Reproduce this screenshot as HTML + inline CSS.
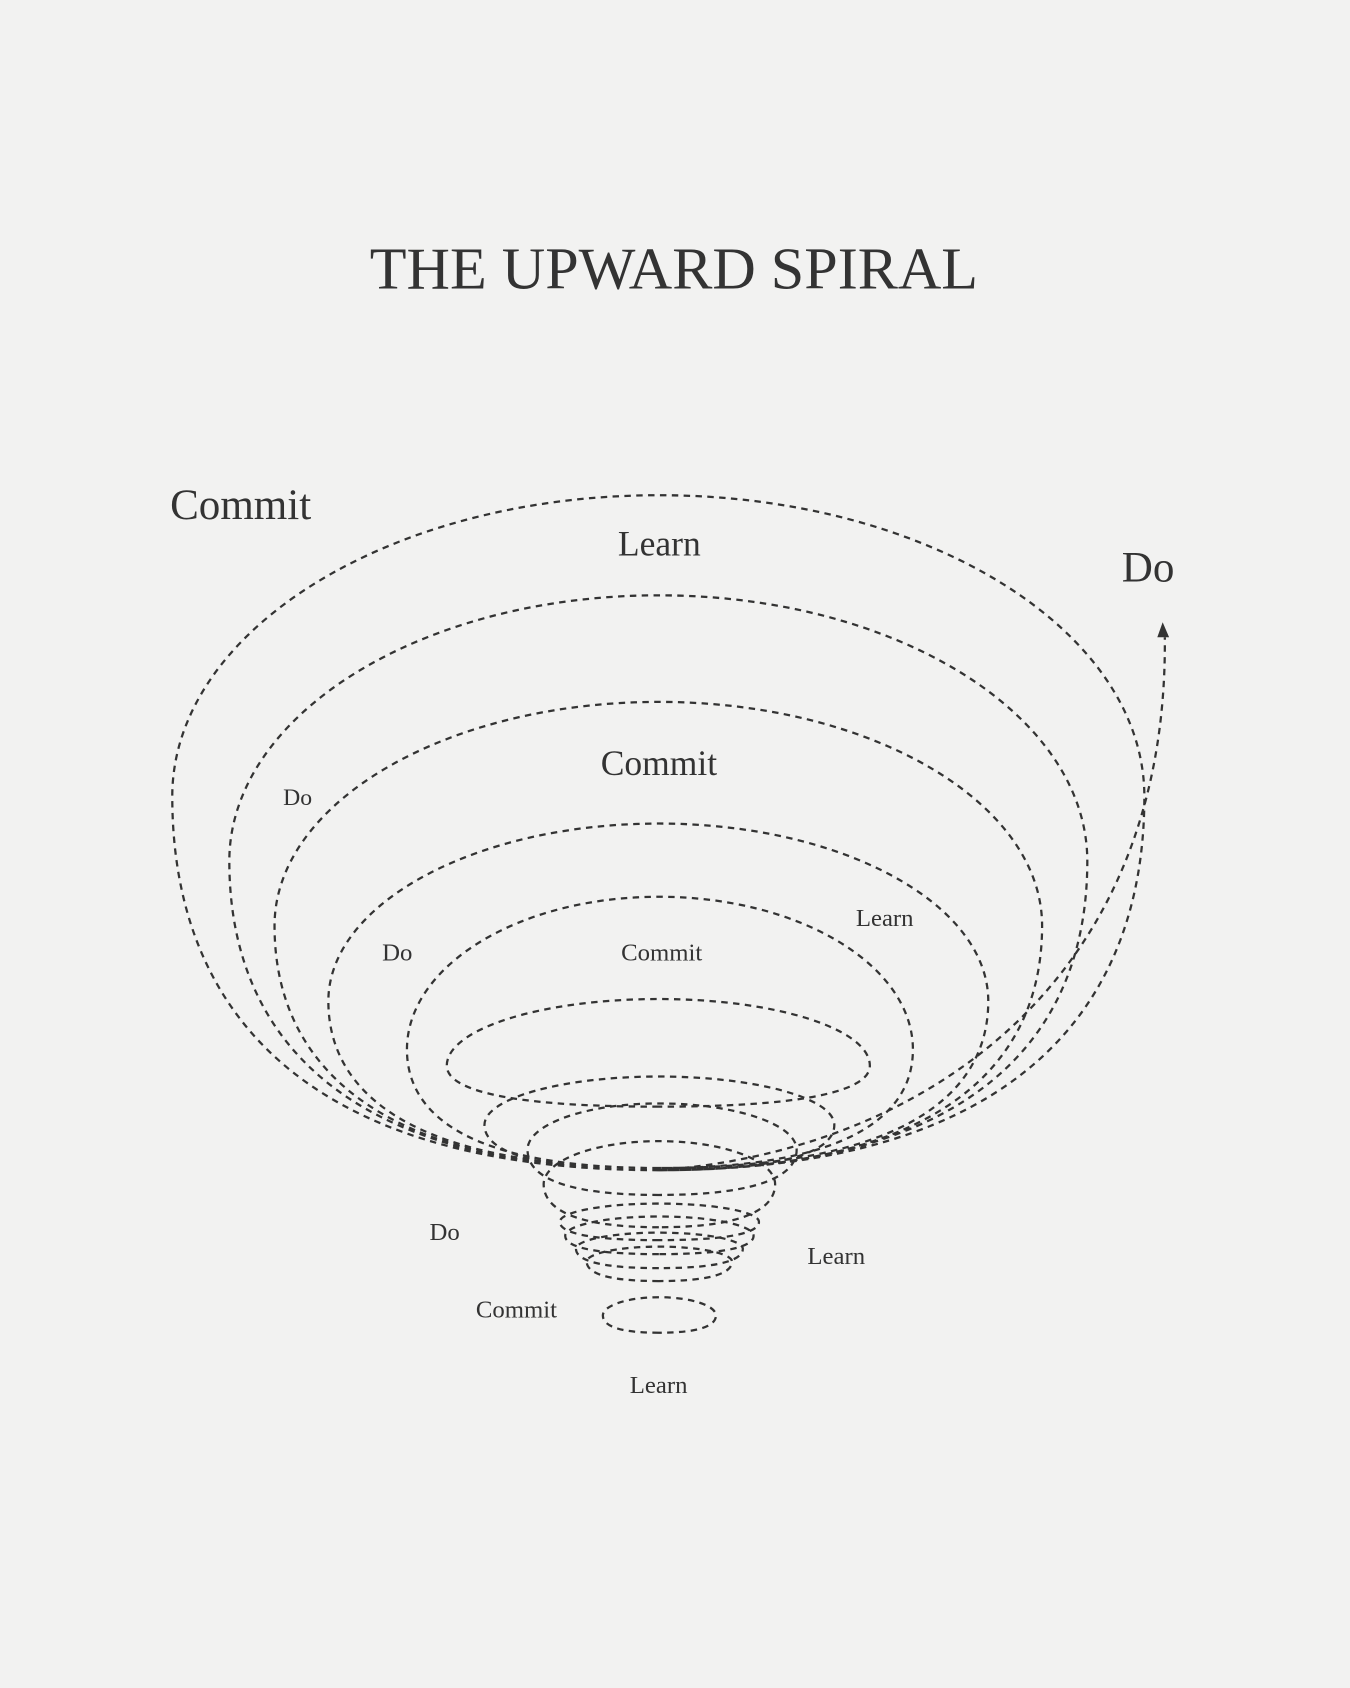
<!DOCTYPE html>
<html><head><meta charset="utf-8"><style>
html,body{margin:0;padding:0;background:#f2f2f1;}
svg{display:block;}
text{font-family:"Liberation Serif",serif;fill:#333;}
</style></head><body>
<svg width="1350" height="1688" viewBox="0 0 1254 1568" xmlns="http://www.w3.org/2000/svg">
<rect width="1254" height="1568" fill="#f2f2f1"/>
<text x="626" y="268" font-size="55" text-anchor="middle" textLength="565" lengthAdjust="spacingAndGlyphs">THE UPWARD SPIRAL</text>
<g id="g" fill="none" stroke="#333" stroke-width="2.1" stroke-dasharray="6 5"></g>
<script>
var L=[[160,1063,460,740,1087],[213,1010,553,800,1087],[255,968,652,860,1087],[305,918,765,930,1085],[378,848,833,975,1085],[415,808,928,990,1028],[450,775,1000,1045,1087],[490,740,1025,1068,1110],[505,720,1060,1100,1140],[520,705,1118,1135,1152],[525,700,1130,1148,1165],[535,690,1145,1160,1178],[545,680,1158,1172,1190],[560,665,1205,1222,1238]];
var cx=612,d="";
L.forEach(function(a){var xl=a[0],xr=a[1],yt=a[2],ym=a[3],yb=a[4];
var k=0.5523,hw=(xr-xl)/2;
var dl=(yb-ym), up=(ym-yt);
d+="M"+cx+","+yb+" C"+(cx-hw*0.75)+","+yb+" "+xl+","+(ym+dl*0.55)+" "+xl+","+ym+
" C"+xl+","+(ym-up*k)+" "+(cx-(cx-xl)*k)+","+yt+" "+cx+","+yt+
" C"+(cx+(xr-cx)*k)+","+yt+" "+xr+","+(ym-up*k)+" "+xr+","+ym+
" C"+xr+","+(ym+dl*0.55)+" "+(cx+(xr-cx)*0.75)+","+yb+" "+cx+","+yb+" ";});
d+="M612,1087 C850,1070 1085,920 1082,592";
var p=document.createElementNS("http://www.w3.org/2000/svg","path");p.setAttribute("d",d);document.getElementById("g").appendChild(p);
</script>
<path d="M1075,592 L1080,578 L1086,592 Z" fill="#333"/>
<text x="158" y="482" font-size="40">Commit</text>
<text x="574" y="516" font-size="33">Learn</text>
<text x="1042" y="540" font-size="40">Do</text>
<text x="263" y="748" font-size="22">Do</text>
<text x="558" y="720" font-size="33">Commit</text>
<text x="795" y="860" font-size="23">Learn</text>
<text x="355" y="892" font-size="23">Do</text>
<text x="577" y="892" font-size="23">Commit</text>
<text x="399" y="1152" font-size="23">Do</text>
<text x="750" y="1174" font-size="23">Learn</text>
<text x="442" y="1224" font-size="23">Commit</text>
<text x="585" y="1294" font-size="23">Learn</text>
</svg>
</body></html>
